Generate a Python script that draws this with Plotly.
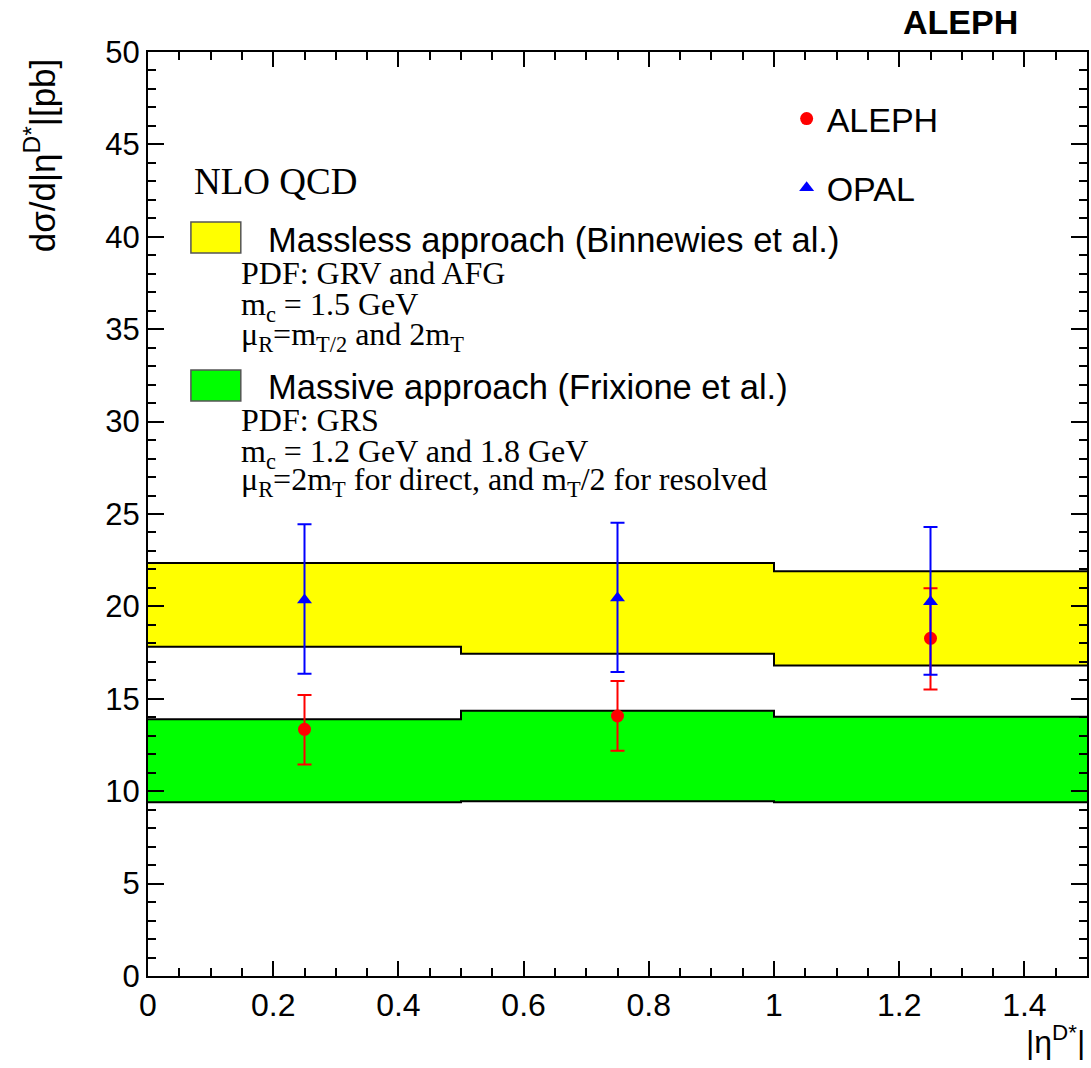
import plotly.graph_objects as go

# ---------------- data ----------------
bin_edges = [0.0, 0.5, 1.0, 1.5]
bin_centers = [0.25, 0.75, 1.25]

massless_low = [17.82, 17.44, 16.80]
massless_high = [22.35, 22.35, 21.90]
massive_low = [9.40, 9.45, 9.40]
massive_high = [13.90, 14.36, 14.03]

aleph_y = [13.35, 14.07, 18.27]
aleph_up = [15.20, 15.96, 20.98]
aleph_dn = [11.45, 12.19, 15.50]

opal_y = [20.35, 20.45, 20.25]
opal_up = [24.44, 24.53, 24.30]
opal_dn = [16.36, 16.45, 16.30]

x_tickvals = [0, 0.2, 0.4, 0.6, 0.8, 1.0, 1.2, 1.4]
x_ticktext = ["0", "0.2", "0.4", "0.6", "0.8", "1", "1.2", "1.4"]
y_tickvals = [0, 5, 10, 15, 20, 25, 30, 35, 40, 45, 50]
y_ticktext = [str(v) for v in y_tickvals]


def steps(edges, vals):
    xs, ys = [], []
    for i, v in enumerate(vals):
        xs += [edges[i], edges[i + 1]]
        ys += [v, v]
    return xs, ys


SANS = "Liberation Sans, Arial, Helvetica, sans-serif"
SERIF = "Liberation Serif, Times New Roman, serif"

fig = go.Figure()

for low, high, col in [(massless_low, massless_high, "#ffff00"),
                       (massive_low, massive_high, "#00ff00")]:
    xl, yl = steps(bin_edges, low)
    xh, yh = steps(bin_edges, high)
    fig.add_trace(go.Scatter(x=xl, y=yl, mode="lines", line=dict(color="black", width=2),
                             showlegend=False, hoverinfo="skip"))
    fig.add_trace(go.Scatter(x=xh, y=yh, mode="lines", line=dict(color="black", width=2),
                             fill="tonexty", fillcolor=col, showlegend=False, hoverinfo="skip"))

fig.add_trace(go.Scatter(
    x=bin_centers, y=aleph_y, mode="markers", name="ALEPH", legendgroup="a",
    marker=dict(symbol="circle", size=13, color="red"),
    error_y=dict(type="data", symmetric=False,
                 array=[u - y for u, y in zip(aleph_up, aleph_y)],
                 arrayminus=[y - d for d, y in zip(aleph_dn, aleph_y)],
                 color="red", thickness=2, width=7)))

fig.add_trace(go.Scatter(
    x=bin_centers, y=opal_y, mode="markers", name="OPAL", legendgroup="b",
    marker=dict(symbol="triangle-up", size=13, color="blue"),
    error_y=dict(type="data", symmetric=False,
                 array=[u - y for u, y in zip(opal_up, opal_y)],
                 arrayminus=[y - d for d, y in zip(opal_dn, opal_y)],
                 color="blue", thickness=2, width=7)))

W, H = 1091, 1068
L, R, T, B = 148, 2, 52, 92
pw, ph = W - L - R, H - T - B


def px(xp):
    return (xp - L) / pw


def py(yp):
    return (H - B - yp) / ph


fig.update_layout(
    width=W, height=H,
    margin=dict(l=L, r=R, t=T, b=B),
    paper_bgcolor="white", plot_bgcolor="white",
    showlegend=True,
    legend=dict(x=px(788), y=py(90), xanchor="left", yanchor="top",
                font=dict(family=SANS, size=34, color="black"),
                bgcolor="rgba(0,0,0,0)", tracegroupgap=22, itemsizing="trace"),
    xaxis=dict(range=[0, 1.5], autorange=False, showgrid=False, zeroline=False,
               showline=True, linecolor="black", linewidth=2, mirror="ticks",
               ticks="inside", ticklen=15, tickwidth=1.5, tickcolor="black",
               tickvals=x_tickvals, ticktext=x_ticktext,
               tickfont=dict(family=SANS, size=32, color="black"),
               minor=dict(dtick=0.05, ticks="inside", ticklen=8, tickwidth=1.5, tickcolor="black", showgrid=False)),
    yaxis=dict(range=[0, 50], autorange=False, showgrid=False, zeroline=False,
               showline=True, linecolor="black", linewidth=2, mirror="ticks",
               ticks="inside", ticklen=16, tickwidth=2, tickcolor="black",
               tickvals=y_tickvals, ticktext=y_ticktext,
               tickfont=dict(family=SANS, size=31, color="black"),
               minor=dict(dtick=1, ticks="inside", ticklen=8, tickwidth=2, tickcolor="black", showgrid=False)),
)

# legend boxes for bands
fig.add_shape(type="rect", xref="paper", yref="paper", x0=px(191), x1=px(241), y0=py(253), y1=py(222),
              fillcolor="#ffff00", line=dict(color="#555555", width=1.5))
fig.add_shape(type="rect", xref="paper", yref="paper", x0=px(191), x1=px(241), y0=py(401), y1=py(370),
              fillcolor="#00ff00", line=dict(color="#555555", width=1.5))


def ann(text, x, y, fam, size, xanchor="left", yanchor="middle", **kw):
    fig.add_annotation(text=text, xref="paper", yref="paper", x=px(x), y=py(y),
                       xanchor=xanchor, yanchor=yanchor, showarrow=False,
                       font=dict(family=fam, size=size, color="black"), **kw)


ann("NLO QCD", 192, 182, SERIF, 37)
ann("Massless approach (Binnewies et al.)", 266, 240, SANS, 34.5)
ann("PDF: GRV and AFG", 239, 273, SERIF, 32)
ann("m<sub>c</sub> = 1.5 GeV", 239, 306, SERIF, 32)
ann("μ<sub>R</sub>=m<sub>T/2</sub> and 2m<sub>T</sub>", 239, 337, SERIF, 32)
ann("Massive approach (Frixione et al.)", 266, 387, SANS, 34.5)
ann("PDF: GRS", 239, 420, SERIF, 32)
ann("m<sub>c</sub> = 1.2 GeV and 1.8 GeV", 239, 453, SERIF, 32)
ann("μ<sub>R</sub>=2m<sub>T</sub> for direct, and m<sub>T</sub>/2 for resolved", 239, 482, SERIF, 32)

# experiment label
ann("<b>ALEPH</b>", 962, 22, SANS, 34, xanchor="center")

# axis titles
ann("|η<sup>D*</sup>|", 1089, 1062, SANS, 32, xanchor="right", yanchor="bottom")
ann("dσ/d|η<sup>D*</sup>|[pb]", 40, 56, SANS, 35, xanchor="center", yanchor="top", textangle=-90)

fig.write_html("out.html")
